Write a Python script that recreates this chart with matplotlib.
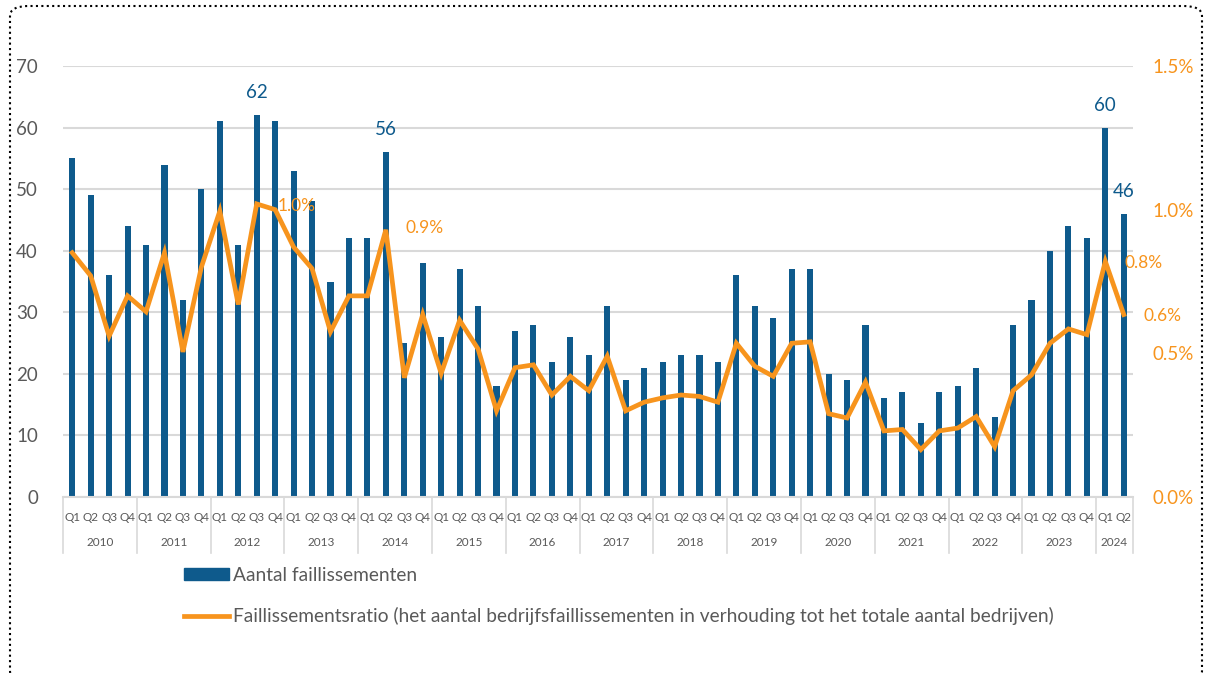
import matplotlib.pyplot as plt
from matplotlib.patches import Patch, FancyBboxPatch
from matplotlib.lines import Line2D
import matplotlib.transforms as mtransforms

plt.rcParams['font.family'] = ['Lato', 'DejaVu Sans']

years = [2010, 2011, 2012, 2013, 2014, 2015, 2016, 2017,
         2018, 2019, 2020, 2021, 2022, 2023, 2024]
quarters_per_year = [4] * 14 + [2]

# aantal faillissementen per kwartaal
counts = [55, 49, 36, 44, 41, 54, 32, 50, 61, 41, 62, 61,
          53, 48, 35, 42, 42, 56, 25, 38, 26, 37, 31, 18,
          27, 28, 22, 26, 23, 31, 19, 21, 22, 23, 23, 22,
          36, 31, 29, 37, 37, 20, 19, 28, 16, 17, 12, 17,
          18, 21, 13, 28, 32, 40, 44, 42, 60, 46]

# faillissementsratio in %
ratio = [0.85, 0.77, 0.56, 0.70, 0.645, 0.85, 0.505, 0.80,
         0.995, 0.67, 1.02, 1.00, 0.87, 0.795, 0.575, 0.70,
         0.70, 0.93, 0.415, 0.635, 0.43, 0.615, 0.515, 0.30,
         0.45, 0.46, 0.355, 0.42, 0.37, 0.49, 0.30, 0.33,
         0.345, 0.355, 0.35, 0.33, 0.535, 0.455, 0.42, 0.535,
         0.54, 0.29, 0.275, 0.40, 0.23, 0.235, 0.165, 0.23,
         0.24, 0.28, 0.175, 0.37, 0.425, 0.535, 0.585, 0.565,
         0.82, 0.635]

count_labels = {10: '62', 17: '56', 56: '60', 57: '46'}
ratio_labels = {11: ('1.0%', (1.5, 3)), 17: ('0.9%', (14, 1)),
                56: ('0.8%', (14, -1)), 57: ('0.6%', (14, -1))}

blue = '#0E5A8C'
orange = '#F7941D'
grey_txt = '#595959'
grid_c = '#D9D9D9'

fig = plt.figure(figsize=(12.05, 6.73), dpi=100)
ax = fig.add_axes([63 / 1205, 176 / 673, 1070 / 1205, 431 / 673])
ax2 = ax.twinx()

x = list(range(len(counts)))
ax.bar(x, counts, width=0.33, color=blue, zorder=2)
ax.set_xlim(-0.5, len(counts) - 0.5)
ax.set_ylim(0, 70)
ax.set_yticks(range(0, 71, 10))
ax.yaxis.grid(True, color=grid_c, lw=1.5, zorder=0)
ax.set_axisbelow(True)
for s in ['top', 'right', 'left']:
    ax.spines[s].set_visible(False)
ax.spines['bottom'].set_color(grid_c)
ax.spines['bottom'].set_linewidth(1.5)
ax.tick_params(axis='y', length=0, pad=18, labelsize=13.5, labelcolor=grey_txt)
ax.set_xticks([])

for i, t in count_labels.items():
    ax.annotate(t, (i, counts[i]), xytext=(0, 10), textcoords='offset points',
                ha='center', va='bottom', fontsize=13.5, color=blue)

ax2.plot(x, ratio, color=orange, lw=3.4, solid_joinstyle='miter', zorder=3)
ax2.set_ylim(0, 1.5)
ax2.set_yticks([0, 0.5, 1.0, 1.5])
ax2.set_yticklabels(['%.1f%%' % v for v in [0, 0.5, 1.0, 1.5]])
ax2.tick_params(axis='y', length=0, pad=14, labelsize=13.5, labelcolor=orange)
for s in ['top', 'right', 'left', 'bottom']:
    ax2.spines[s].set_visible(False)
for i, (t, off) in ratio_labels.items():
    ax2.annotate(t, (i, ratio[i]), xytext=off, textcoords='offset points',
                 ha='left', va='center', fontsize=12.5, color=orange)

# twee niveaus x-as labels
trans = mtransforms.blended_transform_factory(ax.transData, ax.transAxes)
pos = 0
bounds = [-0.5]
for yr, nq in zip(years, quarters_per_year):
    for q in range(nq):
        ax.text(pos + q, -0.048, 'Q%d' % (q + 1), transform=trans,
                ha='center', va='center', fontsize=8.5, color=grey_txt)
    ax.text(pos + (nq - 1) / 2, -0.106, str(yr), transform=trans,
            ha='center', va='center', fontsize=8.5, color=grey_txt)
    pos += nq
    bounds.append(pos - 0.5)
for b in bounds:
    ax.plot([b, b], [0, -0.13], transform=trans, color=grid_c, lw=1.2,
            clip_on=False)

handles = [Patch(color=blue), Line2D([], [], color=orange, lw=3.4)]
labels = ['Aantal faillissementen',
          'Faillissementsratio (het aantal bedrijfsfaillissementen in verhouding tot het totale aantal bedrijven)']
leg = fig.legend(handles, labels, loc='upper left',
                 bbox_to_anchor=(184 / 1205, 1 - 567 / 673), frameon=False,
                 fontsize=13.8, handlelength=2.35, handletextpad=0.2,
                 handleheight=0.55, labelspacing=1.2, borderpad=0,
                 borderaxespad=0)
for t in leg.get_texts():
    t.set_color(grey_txt)

border = FancyBboxPatch((10 / 1205, -8 / 673), 1192 / 1205, 675 / 673,
                        boxstyle='round,pad=0,rounding_size=0.015',
                        transform=fig.transFigure, fill=False, ec='black',
                        lw=1.5, ls=(0, (1, 1.6)), clip_on=False)
fig.patches.append(border)

fig.savefig('out.png', dpi=100)
